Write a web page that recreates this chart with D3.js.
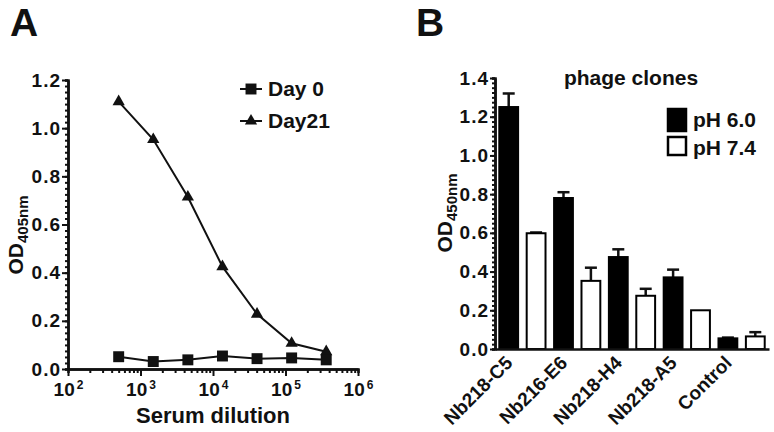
<!DOCTYPE html>
<html>
<head>
<meta charset="utf-8">
<script src="https://cdn.jsdelivr.net/npm/d3@7"></script>
<style>
body { margin:0; background:#fff; }
text { font-family:"Liberation Sans", Arial, sans-serif; font-weight:bold; fill:#111; }
</style>
</head>
<body>
<div id="chart-area"></div>
<script>
// panel A data
var dilutions = [500, 1500, 4500, 13500, 40500, 121500, 364500];
var day0  = [0.051, 0.031, 0.038, 0.054, 0.043, 0.046, 0.038];
var day21 = [1.11, 0.953, 0.714, 0.425, 0.228, 0.107, 0.072];
var xTicksA = [1e2, 1e3, 1e4, 1e5, 1e6];
var yTicksA = [0, 0.2, 0.4, 0.6, 0.8, 1.0, 1.2];

// panel B data
var clones = ["Nb218-C5", "Nb216-E6", "Nb218-H4", "Nb218-A5", "Control"];
var phGroups = ["pH 6.0", "pH 7.4"];
var ph60 = [1.25, 0.78, 0.475, 0.37, 0.055];
var ph60err = [0.07, 0.03, 0.04, 0.04, 0.004];
var ph74 = [0.598, 0.352, 0.275, 0.20, 0.065];
var ph74err = [0.004, 0.068, 0.036, 0, 0.022];
var yTicksB = [0, 0.2, 0.4, 0.6, 0.8, 1.0, 1.2, 1.4];

var svg = d3.select("#chart-area")
        .append("svg")
                .attr("width", 774)
                .attr("height", 432);

function styleAxis(g) {
        g.select(".domain").attr("stroke", "#111").attr("stroke-width", 2.5);
        g.selectAll(".tick line").attr("stroke", "#111").attr("stroke-width", 2);
        g.selectAll(".tick text").attr("font-size", "19px");
}

// panel letters
svg.append("text").attr("x", 10).attr("y", 36).attr("font-size", "39px").text("A");
svg.append("text").attr("x", 416).attr("y", 36).attr("font-size", "39px").text("B");

// ---------- panel A ----------
var xA = d3.scaleLog().domain([1e2, 1e6]).range([68, 358]);
var yA = d3.scaleLinear().domain([0, 1.2]).range([369, 80]);

// minor ticks
var minorX = [];
for (var e = 2; e < 6; e++) for (var m = 2; m < 10; m++) minorX.push(m * Math.pow(10, e));
svg.append("g")
        .attr("transform", "translate(0," + yA(0) + ")")
        .call(d3.axisBottom(xA).tickValues(minorX).tickSize(4).tickFormat(""))
        .call(styleAxis);
svg.append("g")
        .attr("transform", "translate(" + xA(1e2) + ",0)")
        .call(d3.axisLeft(yA).tickValues(d3.range(0, 1.2001, 0.025)).tickSize(3).tickFormat(""))
        .call(styleAxis);

var xAxisA = svg.append("g")
        .attr("transform", "translate(0," + yA(0) + ")")
        .call(d3.axisBottom(xA).tickValues(xTicksA).tickSize(7).tickSizeOuter(0).tickPadding(7))
        .call(styleAxis);
xAxisA.selectAll(".tick text").text(null).each(function(d) {
        var t = d3.select(this);
        t.append("tspan").text("10");
        t.append("tspan").attr("dx", 2).attr("dy", -7).attr("font-size", "12px").text(Math.round(Math.log10(d)));
});

svg.append("g")
        .attr("transform", "translate(" + xA(1e2) + ",0)")
        .call(d3.axisLeft(yA).tickValues(yTicksA).tickSize(6).tickSizeOuter(0).tickPadding(1).tickFormat(d3.format(".1f")))
        .call(styleAxis)
        .selectAll(".tick text").attr("letter-spacing", "1px");

svg.append("text")
        .attr("x", 213).attr("y", 423)
        .attr("font-size", "22px")
        .attr("text-anchor", "middle")
        .text("Serum dilution");

var ylabA = svg.append("text")
        .attr("transform", "translate(23,235) rotate(-90)")
        .attr("font-size", "21px")
        .attr("text-anchor", "middle");
ylabA.append("tspan").text("OD");
ylabA.append("tspan").attr("dy", 5).attr("font-size", "15px").text("405nm");

var line = d3.line()
        .x((d, i) => xA(dilutions[i]))
        .y(d => yA(d));

svg.append("path").datum(day21)
        .attr("d", line).attr("fill", "none").attr("stroke", "#111").attr("stroke-width", 2);
svg.append("path").datum(day0)
        .attr("d", line).attr("fill", "none").attr("stroke", "#111").attr("stroke-width", 2);

var tri = d3.symbol().type(d3.symbolTriangle).size(65);
var sq = d3.symbol().type(d3.symbolSquare).size(120);

svg.selectAll(".tri").data(day21).enter()
        .append("path")
        .attr("class", "tri")
        .attr("d", tri)
        .attr("transform", (d, i) => "translate(" + xA(dilutions[i]) + "," + yA(d) + ")")
        .attr("fill", "#111");
svg.selectAll(".sq").data(day0).enter()
        .append("path")
        .attr("class", "sq")
        .attr("d", sq)
        .attr("transform", (d, i) => "translate(" + xA(dilutions[i]) + "," + yA(d) + ")")
        .attr("fill", "#111");

// legend A
var legA = [["Day 0", sq, 89], ["Day21", tri, 121]];
legA.forEach(function(l) {
        svg.append("line").attr("x1", 240).attr("x2", 262).attr("y1", l[2]).attr("y2", l[2])
                .attr("stroke", "#111").attr("stroke-width", 2);
        svg.append("path").attr("d", l[1]).attr("transform", "translate(251," + l[2] + ")").attr("fill", "#111");
        svg.append("text").attr("x", 268).attr("y", l[2] + 7).attr("font-size", "21px").text(l[0]);
});

// ---------- panel B ----------
var x0 = d3.scaleBand().domain(clones).range([495, 769]);
var x1 = d3.scaleBand().domain(phGroups).range([0, x0.bandwidth()]).paddingInner(0.24).paddingOuter(0.12);
var yB = d3.scaleLinear().domain([0, 1.4]).range([349, 78]);

svg.append("g")
        .attr("transform", "translate(495,0)")
        .call(d3.axisLeft(yB).tickValues(d3.range(0, 1.4001, 0.025)).tickSize(3).tickFormat(""))
        .call(styleAxis);
svg.append("g")
        .attr("transform", "translate(495,0)")
        .call(d3.axisLeft(yB).tickValues(yTicksB).tickSize(5).tickSizeOuter(0).tickPadding(1).tickFormat(d3.format(".1f")))
        .call(styleAxis)
        .selectAll(".tick text").attr("letter-spacing", "1px");

var rows = [];
clones.forEach(function(c, i) {
        rows.push({ clone: c, grp: phGroups[0], v: ph60[i], err: ph60err[i] });
        rows.push({ clone: c, grp: phGroups[1], v: ph74[i], err: ph74err[i] });
});

// error bars (upper only)
var errs = svg.selectAll(".err").data(rows.filter(d => d.err > 0)).enter().append("g");
errs.append("line")
        .attr("x1", d => x0(d.clone) + x1(d.grp) + x1.bandwidth() / 2)
        .attr("x2", d => x0(d.clone) + x1(d.grp) + x1.bandwidth() / 2)
        .attr("y1", d => yB(d.v))
        .attr("y2", d => yB(d.v + d.err))
        .attr("stroke", "#111").attr("stroke-width", 2.5);
errs.append("line")
        .attr("x1", d => x0(d.clone) + x1(d.grp) + x1.bandwidth() / 2 - 6)
        .attr("x2", d => x0(d.clone) + x1(d.grp) + x1.bandwidth() / 2 + 6)
        .attr("y1", d => yB(d.v + d.err))
        .attr("y2", d => yB(d.v + d.err))
        .attr("stroke", "#111").attr("stroke-width", 2.5);

svg.selectAll(".bar").data(rows).enter()
        .append("rect")
        .attr("class", "bar")
        .attr("x", d => x0(d.clone) + x1(d.grp) + 1)
        .attr("y", d => yB(d.v))
        .attr("width", x1.bandwidth() - 2)
        .attr("height", d => yB(0) - yB(d.v))
        .attr("fill", d => d.grp == phGroups[0] ? "#000" : "#fff")
        .attr("stroke", "#000")
        .attr("stroke-width", 2);

var xAxisB = svg.append("g")
        .attr("transform", "translate(0," + yB(0) + ")")
        .call(d3.axisBottom(x0).tickSize(0).tickSizeOuter(0).tickFormat(""))
        .call(styleAxis);

svg.selectAll(".clab").data(clones).enter()
        .append("text")
        .attr("class", "clab")
        .attr("font-size", "19px")
        .attr("text-anchor", "end")
        .attr("transform", d => "translate(" + (x0(d) + x1(phGroups[0]) + x1.bandwidth() / 2 + 5) + ",364) rotate(-45)")
        .text(d => d);

var ylabB = svg.append("text")
        .attr("transform", "translate(452,213) rotate(-90)")
        .attr("font-size", "21px")
        .attr("text-anchor", "middle");
ylabB.append("tspan").text("OD");
ylabB.append("tspan").attr("dy", 5).attr("font-size", "15px").text("450nm");

svg.append("text")
        .attr("x", 631).attr("y", 85)
        .attr("font-size", "21px")
        .attr("text-anchor", "middle")
        .text("phage clones");

phGroups.forEach(function(g, i) {
        var yy = 109 + i * 28;
        svg.append("rect").attr("x", 668).attr("y", yy).attr("width", 18).attr("height", i == 0 ? 22 : 18)
                .attr("fill", i == 0 ? "#000" : "#fff").attr("stroke", "#000").attr("stroke-width", 2.5);
        svg.append("text").attr("x", 693).attr("y", yy + 18).attr("font-size", "21px").text(g);
});
</script>
</body>
</html>
